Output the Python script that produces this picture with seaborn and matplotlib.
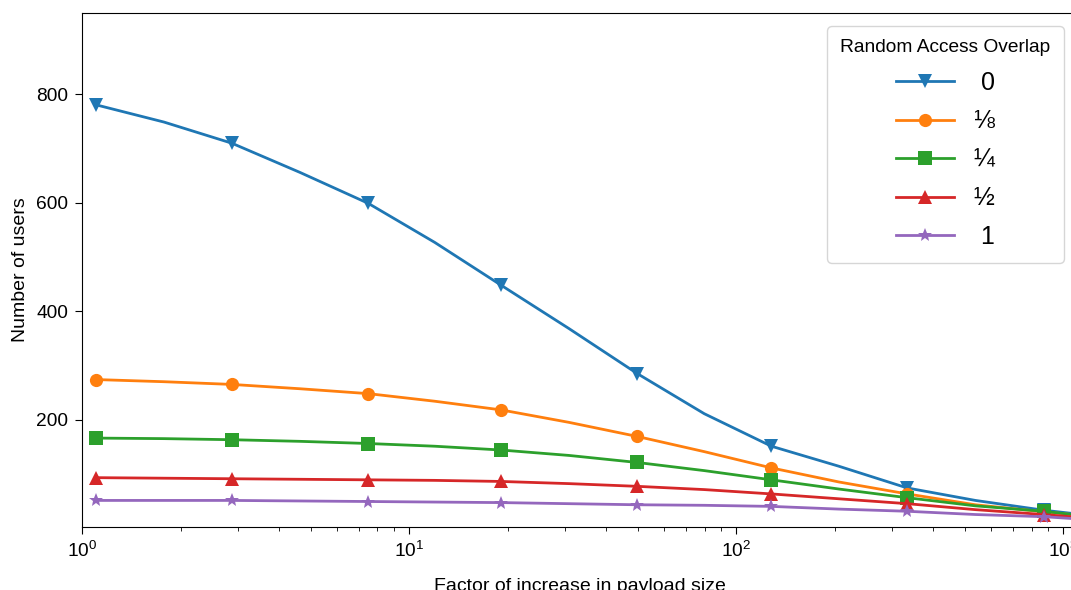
import matplotlib
matplotlib.use("Agg")
import matplotlib.pyplot as plt
import seaborn as sns
import numpy as np

plt.rcParams['font.family'] = ['Liberation Sans', 'DejaVu Sans']

# x positions: marker points alternate with read intermediate points, last = right edge
x_vals = [1.10, 1.78, 2.87, 4.64, 7.50, 11.97, 19.1, 30.8, 49.8, 79.8,
          128, 206, 333, 538, 869, 1100]

overlap_0 = [781, 749, 710, 656, 599, 527, 448, 368, 285, 211, 151, 114, 74, 51, 33, 26]
overlap_eighth = [274, 270, 265, 257, 248, 234, 218, 195, 169, 141, 111, 85, 63, 43, 30, 24]
overlap_quarter = [166, 165, 163, 160, 156, 151, 144, 134, 121, 106, 89, 72, 56, 41, 31, 24]
overlap_half = [93, 92, 91, 90, 89, 88, 86, 82, 77, 71, 63, 54, 45, 34, 25, 20]
overlap_one = [51, 51, 51, 50, 49, 48, 47, 45, 43, 42, 40, 35, 31, 25, 21, 17]

labels = [" 0", "⅛", "¼", "½", " 1"]
series = [overlap_0, overlap_eighth, overlap_quarter, overlap_half, overlap_one]
markers = ["v", "o", "s", "^", "*"]
msizes = [9.5, 9.5, 9.5, 9.5, 10.5]
colors = sns.color_palette("tab10", 5)

fig = plt.figure(figsize=(10.71, 5.90), dpi=100)
ax = fig.add_axes([0.0766, 0.1068, 0.929, 0.871])

for vals, lab, m, ms, c in zip(series, labels, markers, msizes, colors):
    sns.lineplot(x=x_vals, y=vals, ax=ax, color=c, marker=m,
                 markevery=slice(0, 15, 2), markersize=ms, linewidth=2,
                 markeredgecolor=c, markeredgewidth=0, label=lab)

ax.set_xscale("log")
ax.set_xlim(1, 1100)
ax.set_ylim(2, 950)
ax.set_yticks([200, 400, 600, 800])
ax.tick_params(axis="both", which="major", labelsize=13.8, length=4.8, pad=5.2)
ax.tick_params(axis="both", which="minor", length=2.9)
ax.set_xlabel("Factor of increase in payload size", fontsize=14, labelpad=12)
ax.set_ylabel("Number of users", fontsize=14, labelpad=5)

leg = ax.legend(title="Random Access Overlap", fontsize=18, title_fontsize=13.8,
                loc="upper right", handlelength=2.3, labelspacing=0.58,
                borderpad=0.55)

fig.savefig("out.png", dpi=100)
